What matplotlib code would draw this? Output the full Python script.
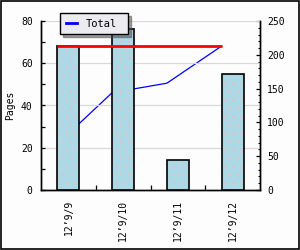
import matplotlib
matplotlib.use("Agg")
import matplotlib.pyplot as plt
from matplotlib.patches import Rectangle
from matplotlib.ticker import MultipleLocator, FixedLocator
import numpy as np

categories = ["12\u20199/9", "12\u20199/10", "12\u20199/11", "12\u20199/12"]
pages = [68, 76, 14, 55]
total = [68, 144, 158, 213]
target = [213, 213, 213, 213]

plt.rcParams['font.family'] = ['DejaVu Sans Mono']
plt.rcParams['hatch.linewidth'] = 0.4
fs = 7

fig = plt.figure(figsize=(3, 2.5), dpi=100, facecolor='#fdfdfd')
ax = fig.add_axes([41/300, 60/250, 219/300, 169/250])
ax.set_facecolor('#fdfdfd')
ax2 = ax.twinx()

x = np.arange(len(categories))
ax.set_zorder(2)
ax.patch.set_visible(False)
ax2.set_zorder(1)

# blue line behind bars (on right axis)
ax2.plot(x - 0.2, total, color='#0000ff', lw=0.9, label='Total')
ax2.set_ylim(0, 250)

bars = ax.bar(x, pages, width=0.4, color='#add8e6', edgecolor='black', linewidth=1.2,
              hatch='..', zorder=3)
for b in bars:
    b._hatch_color = (0.9, 0.75, 0.75, 1.0)

# red line on top (right-axis values mapped to left scale)
ax.plot(x - 0.2, [v * 80 / 250 for v in target], color='#ff0000', lw=2, zorder=4,
        solid_capstyle='butt')

ax.set_xlim(-0.5, 3.5)
ax.set_ylim(0, 80)
ax.yaxis.set_major_locator(MultipleLocator(20))
ax.yaxis.set_minor_locator(MultipleLocator(10))
ax2.yaxis.set_major_locator(MultipleLocator(50))
ax2.yaxis.set_minor_locator(MultipleLocator(10))
ax.grid(axis='y', which='major', color='#d8d8d8', lw=0.9, zorder=0)
ax.set_axisbelow(True)

ax.set_xticks(x)
ax.set_xticklabels(categories, rotation=90, fontsize=fs)
ax.xaxis.set_minor_locator(FixedLocator([0.5, 1.5, 2.5]))
ax.tick_params(axis='x', which='major', length=0, pad=7)
ax.tick_params(axis='x', which='minor', direction='in', length=3.5, width=0.9)
ax.tick_params(axis='y', which='both', direction='in', length=3, width=0.9, labelsize=fs, pad=6)
ax2.tick_params(axis='y', which='major', direction='in', length=3, width=0.9, labelsize=fs, pad=5)
ax2.tick_params(axis='y', which='minor', direction='in', length=1.8, width=0.8)

for a in (ax, ax2):
    a.spines['top'].set_visible(False)
    for s in ('left', 'right', 'bottom'):
        a.spines[s].set_linewidth(1)
        a.spines[s].set_color('black')

ax.set_ylabel('Pages', fontsize=fs, labelpad=4)

h, l = ax2.get_legend_handles_labels()
leg = fig.legend(h, l, loc='upper left', bbox_to_anchor=(60/300, 1 - 34/250, 68/300, 21/250),
                 mode='expand', fontsize=fs + 0.5, frameon=True, fancybox=False, shadow=True,
                 handlelength=1.05, handletextpad=0.85, borderpad=0.55, borderaxespad=0)
leg.get_frame().set_facecolor('#ecebf0')
leg.get_frame().set_edgecolor('black')
leg.get_frame().set_linewidth(1)
leg.get_frame().set_alpha(1)
for line in leg.get_lines():
    line.set_linewidth(2)

fig.patches.append(Rectangle((0.002, 0.003), 0.994, 0.993, transform=fig.transFigure,
                             fill=False, edgecolor='black', lw=1.2))

fig.savefig('out.png', dpi=100, facecolor=fig.get_facecolor())
